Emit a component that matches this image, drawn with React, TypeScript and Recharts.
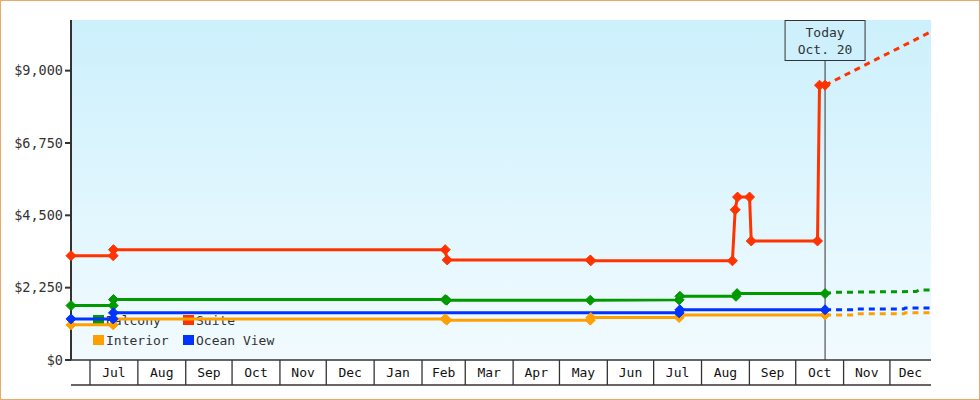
import React from "react";
import {
  LineChart,
  Line,
  XAxis,
  YAxis,
  CartesianGrid,
  ReferenceLine,
} from "recharts";

// x values are days counted from Jul 1 of the first year
const MONTHS = ["Jul", "Aug", "Sep", "Oct", "Nov", "Dec", "Jan", "Feb", "Mar", "Apr", "May", "Jun", "Jul", "Aug", "Sep", "Oct", "Nov", "Dec"];
const MONTH_STARTS = [0, 31, 62, 92, 123, 153, 184, 215, 243, 274, 304, 335, 365, 396, 427, 457, 488, 518];
const X_DOMAIN: [number, number] = [-12.3, 544.6];
const Y_TICKS = [0, 2250, 4500, 6750, 9000];
const TODAY = 476;

const BALCONY = [[-12.3, 1693], [15, 1693], [15.2, 1879], [230, 1879], [231, 1860], [324, 1860], [381.5, 1870], [382, 1981], [418.3, 1981], [419, 2065], [476, 2065]];
const BALCONY_FC = [[476, 2065], [482, 2105], [535, 2130], [537, 2180], [544.6, 2180]];

const SUITE = [[-12.3, 3245], [15, 3245], [15.2, 3432], [230, 3432], [231.3, 3112], [324, 3112], [324.3, 3085], [416, 3085], [417.8, 4674], [419.3, 5068], [427.1, 5068], [428.2, 3702], [471.1, 3702], [472.4, 8547], [476, 8547]];
const SUITE_FC = [[476, 8547], [544.6, 10211]];

const INTERIOR = [[-12.3, 1093], [15, 1093], [15.2, 1279], [230, 1279], [231, 1240], [324, 1240], [324.3, 1319], [381.5, 1319], [382, 1403], [476, 1403]];
const INTERIOR_FC = [[476, 1403], [495, 1403], [496, 1435], [527, 1435], [528, 1466], [544.6, 1466]];

const OCEAN = [[-12.3, 1279], [15, 1279], [15.2, 1466], [381.5, 1466], [382, 1562], [476, 1562]];
const OCEAN_FC = [[476, 1562], [495, 1562], [496, 1590], [527, 1590], [528, 1621], [544.6, 1621]];

const COLORS = { balcony: "#009900", suite: "#ff3300", interior: "#ffa000", ocean: "#0033ff" };
const FONT = "'DejaVu Sans Mono', monospace";
const INK = "#333";

const toRows = (pts: number[][]) => pts.map(([d, v]) => ({ d, v }));

const monthMids = MONTH_STARTS.map((s, i) => (s + (MONTH_STARTS[i + 1] ?? X_DOMAIN[1])) / 2);
const labelAt = new Map(monthMids.map((m, i) => [m, MONTHS[i]]));
const xTicks = [...MONTH_STARTS, ...monthMids];

function MonthTick({ x, y, payload }: any) {
  const label = labelAt.get(payload.value);
  if (label) {
    return (
      <text x={x} y={y + 17} textAnchor="middle" fontFamily={FONT} fontSize={13} fill="#111">
        {label}
      </text>
    );
  }
  return <line x1={x} y1={y} x2={x} y2={y + 25} stroke={INK} strokeWidth={1.3} />;
}

const dot = (color: string) => (p: any) => {
  const { cx, cy, index } = p;
  if (cx == null || cy == null) return <g key={`k${index}`} />;
  const r = 5;
  return (
    <path
      key={`k${index}`}
      d={`M${cx},${cy - r}L${cx + r},${cy}L${cx},${cy + r}L${cx - r},${cy}Z`}
      fill={color}
      stroke={color}
      strokeWidth={1}
      strokeLinejoin="round"
    />
  );
};

function TodayBox({ viewBox }: any) {
  const cx = viewBox.x;
  const top = viewBox.y;
  return (
    <g>
      <rect x={cx - 40} y={top + 0.5} width={80} height={40} fill="#cdf0fc" stroke={INK} strokeWidth={1} />
      <text x={cx} y={top + 17} textAnchor="middle" fontFamily={FONT} fontSize={13} fill={INK}>Today</text>
      <text x={cx} y={top + 34} textAnchor="middle" fontFamily={FONT} fontSize={13} fill={INK}>Oct. 20</text>
    </g>
  );
}

const LEGEND = [
  { name: "Balcony", color: COLORS.balcony, x: 93, y: 315 },
  { name: "Suite", color: COLORS.suite, x: 183, y: 315 },
  { name: "Interior", color: COLORS.interior, x: 93, y: 335 },
  { name: "Ocean View", color: COLORS.ocean, x: 183, y: 335 },
];

function SvgLegend() {
  return (
    <g>
      {LEGEND.map((l) => (
        <g key={l.name}>
          <rect x={l.x} y={l.y} width={11} height={10} fill={l.color} />
          <text x={l.x + 13} y={l.y + 9.5} fontFamily={FONT} fontSize={13} fill={INK}>{l.name}</text>
        </g>
      ))}
    </g>
  );
}

export default function App() {
  const series = [
    { key: "balcony", solid: BALCONY, fc: BALCONY_FC, color: COLORS.balcony },
    { key: "suite", solid: SUITE, fc: SUITE_FC, color: COLORS.suite },
    { key: "interior", solid: INTERIOR, fc: INTERIOR_FC, color: COLORS.interior },
    { key: "ocean", solid: OCEAN, fc: OCEAN_FC, color: COLORS.ocean },
  ];
  return (
    <div style={{ position: "absolute", left: 0, top: 0, width: 980, height: 400, background: "#fff" }}>
      <LineChart width={980} height={400} margin={{ top: 20, right: 49, bottom: 0, left: 11 }}>
        <defs>
          <linearGradient id="plotBg" x1="0" y1="0" x2="0" y2="1">
            <stop offset="0%" stopColor="#ccf0fc" />
            <stop offset="100%" stopColor="#f2fbff" />
          </linearGradient>
        </defs>
        <CartesianGrid horizontal={false} vertical={false} fill="url(#plotBg)" />
        <XAxis
          type="number"
          dataKey="d"
          domain={X_DOMAIN}
          ticks={xTicks}
          interval={0}
          tick={<MonthTick />}
          tickLine={false}
          tickSize={0}
          tickMargin={0}
          height={25}
          axisLine={{ stroke: INK, strokeWidth: 1.3 }}
        />
        <XAxis
          xAxisId="edge"
          type="number"
          dataKey="d"
          domain={X_DOMAIN}
          tick={false}
          tickLine={false}
          height={15}
          axisLine={{ stroke: INK, strokeWidth: 1.3 }}
        />
        <YAxis
          type="number"
          domain={[0, 10575]}
          ticks={Y_TICKS}
          interval={0}
          width={60}
          tickSize={6}
          tickMargin={2}
          tickFormatter={(v: number) => `$${v.toLocaleString("en-US")}`}
          tick={{ fontFamily: FONT, fontSize: 13.5, fill: INK }}
          tickLine={{ stroke: INK, strokeWidth: 2 }}
          axisLine={{ stroke: INK, strokeWidth: 2 }}
        />
        <SvgLegend />
        <ReferenceLine x={TODAY} stroke={INK} strokeWidth={1} label={<TodayBox />} />
        {series.map((s) => (
          <Line
            key={`${s.key}-fc`}
            data={toRows(s.fc)}
            dataKey="v"
            type="linear"
            stroke={s.color}
            strokeWidth={3}
            strokeDasharray="6 5"
            dot={false}
            activeDot={false}
            isAnimationActive={false}
          />
        ))}
        {series.map((s) => (
          <Line
            key={s.key}
            data={toRows(s.solid)}
            dataKey="v"
            name={s.key}
            type="linear"
            stroke={s.color}
            strokeWidth={3}
            dot={dot(s.color)}
            activeDot={false}
            isAnimationActive={false}
          />
        ))}
      </LineChart>
      <div
        style={{
          position: "absolute",
          left: 0,
          top: 0,
          width: 980,
          height: 400,
          boxSizing: "border-box",
          border: "1px solid #eaa968",
          pointerEvents: "none",
        }}
      />
    </div>
  );
}
